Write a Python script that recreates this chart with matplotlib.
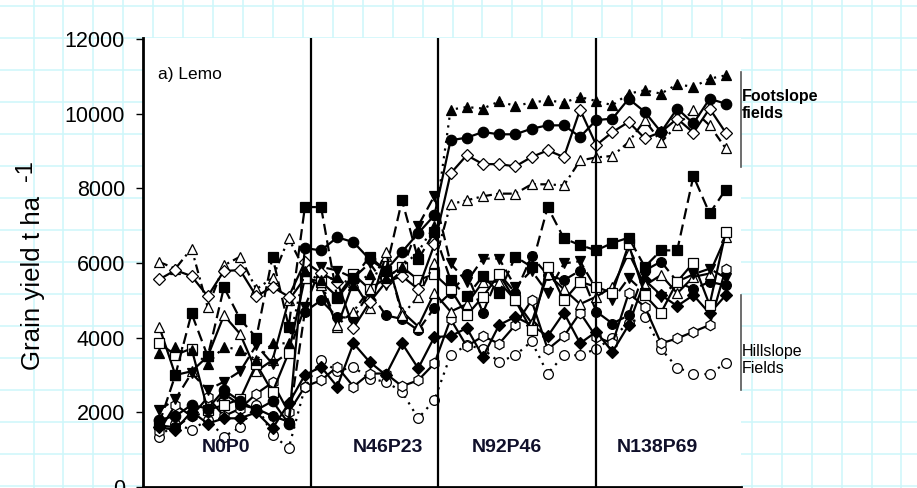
import numpy as np
import matplotlib
matplotlib.use('Agg')
import matplotlib.pyplot as plt

plt.rcParams['font.family'] = ['Liberation Sans', 'DejaVu Sans']

# sampling order 1..36, 9 per treatment
x = np.arange(1, 37)
treatments = ['N0P0', 'N46P23', 'N92P46', 'N138P69']
treat_label_x = [5.1, 15.1, 22.5, 31.8]
separators = [10.38, 18.22, 27.98]

# footslope fields
foot_tri = [3580, 3760, 3670, 3300, 3760, 3670, 3400, 3850, 3850, 5800,
            5540, 5620, 5400, 5700, 5600, 5900, 6300, 7000,
            10110, 10180, 10140, 10330, 10210, 10300, 10360, 10300, 10450,
            10340, 10230, 10540, 10630, 10540, 10790, 10720, 10940, 11030]
foot_circ = [1800, 1900, 2200, 2100, 2600, 2300, 2060, 2300, 1700, 6400,
             6340, 6690, 6560, 6100, 5800, 6300, 6800, 7280,
             9290, 9360, 9510, 9450, 9450, 9600, 9690, 9690, 9380,
             9830, 9870, 10400, 10050, 9510, 10140, 9740, 10400, 10270]
foot_diam = [5560, 5810, 5650, 5110, 5790, 5810, 5110, 5360, 5100, 6030,
             5730, 5500, 4260, 4950, 5490, 5650, 5300, 6500,
             8400, 8890, 8650, 8650, 8590, 8840, 9020, 8840, 10110,
             9160, 9510, 9780, 9340, 9510, 9870, 9490, 10140, 9490]
foot_otri = [6030, 5850, 6390, 4810, 5940, 6170, 5300, 5600, 6660, 5800,
             5500, 4340, 4700, 5300, 6300, 4600, 5100, 6000,
             7580, 7680, 7790, 7860, 7860, 8110, 8110, 8080, 8750,
             8830, 8870, 9240, 9830, 9240, 9690, 10090, 9690, 9070]

# hillslope fields
hill_sq = [1700, 3000, 4650, 3500, 5350, 4500, 4000, 6170, 4300, 7500,
           7500, 5060, 5600, 6170, 5800, 7680, 6100, 6830,
           5540, 5110, 5650, 5200, 6170, 5900, 7500, 6660, 6480,
           6340, 6540, 6680, 5900, 6340, 6340, 8330, 7330, 7970]
hill_osq = [3850, 3540, 3710, 2060, 2200, 2350, 3300, 2540, 3600, 5600,
            5500, 5100, 5700, 5300, 5600, 5900, 5550, 5700,
            5300, 4600, 5100, 5700, 5000, 4200, 5900, 5000, 5500,
            5360, 5200, 6500, 5140, 4670, 5500, 6010, 4880, 6840]
hill_itri = [2060, 2350, 3050, 2600, 2820, 3100, 3800, 3300, 3600, 4830,
             5900, 5800, 5600, 6000, 5400, 5800, 7000, 7800,
             5990, 5500, 6120, 6120, 5360, 5800, 5200, 5990, 6050,
             5300, 5010, 5600, 5200, 5100, 5500, 5700, 5850, 5600]
hill_diam = [1600, 1530, 2020, 1700, 1840, 1840, 2000, 1570, 2240, 3000,
             3220, 2690, 3850, 3350, 3000, 3850, 3180, 4020,
             4040, 4260, 3490, 4340, 4560, 4340, 4040, 4670, 3850,
             4160, 3620, 4340, 5540, 5140, 4850, 5140, 4650, 5140]
hill_ocirc = [1350, 1700, 1530, 1800, 1350, 1600, 2200, 1400, 1040, 2670,
              3400, 3100, 3220, 2900, 2820, 2550, 1840, 2330,
              3530, 3800, 3700, 3350, 3530, 3900, 3040, 3530, 3530,
              3700, 4000, 4400, 4560, 3700, 3200, 3040, 3020, 3330]
hill_hex = [1500, 2200, 1900, 2400, 1900, 2100, 2500, 2800, 2000, 2690,
            2860, 3220, 2690, 3040, 3040, 2700, 2860, 3310,
            4500, 3770, 4040, 3840, 4340, 5000, 3690, 4040, 4670,
            4020, 3850, 5190, 4830, 3850, 3980, 4160, 4340, 5850]
hill_otri = [4300, 3000, 3100, 3500, 4600, 4100, 3100, 3400, 5000, 5600,
             5400, 4300, 5500, 4800, 6200, 4700, 4300, 5200,
             4700, 4900, 5500, 5500, 5000, 4400, 5700, 5300, 4900,
             5100, 5360, 6270, 5400, 5680, 5190, 5630, 5720, 6700]
hill_circ = [1650, 1600, 1900, 2000, 2500, 2200, 2100, 1900, 1750, 4700,
             5000, 4560, 4520, 5230, 4600, 4500, 4200, 4800,
             5200, 5720, 4670, 5720, 5200, 6180, 5680, 5540, 5800,
             4700, 4380, 4600, 5800, 6040, 5500, 5300, 5500, 5400]

dotted = (0, (1, 2.5))
longdash = (0, (5, 2.5))
dashdot = (0, (4, 2, 1, 2))

series = [
    (hill_ocirc, 'o', 'white', dotted, 7),
    (hill_hex, 'h', 'white', '-', 7.5),
    (hill_diam, 'D', 'black', '-', 6),
    (hill_circ, 'o', 'black', longdash, 7),
    (hill_otri, '^', 'white', '-', 7.5),
    (hill_itri, 'v', 'black', longdash, 7.5),
    (hill_osq, 's', 'white', '-', 6.5),
    (hill_sq, 's', 'black', longdash, 6.5),
    (foot_otri, '^', 'white', dashdot, 7.5),
    (foot_diam, 'D', 'white', '-', 6.5),
    (foot_circ, 'o', 'black', '-', 7.5),
    (foot_tri, '^', 'black', dotted, 7.5),
]

W, H = 917, 488
fig = plt.figure(figsize=(W / 100, H / 100), dpi=100)
fig.patch.set_facecolor('white')

# spreadsheet cell grid behind the chart
bg = fig.add_axes([0, 0, 1, 1], zorder=-1)
bg.set_xlim(0, W)
bg.set_ylim(H, 0)
bg.axis('off')
for gx in np.arange(33, W, 29.93):
    bg.axvline(int(gx) + 0.5, color='#cdf7fa', lw=1.1)
for gy in np.arange(5, H, 32):
    bg.axhline(int(gy) + 0.5, color='#cdf7fa', lw=1.1)

ax = fig.add_axes([143 / W, 1 / H, (741 - 143) / W, (487 - 38) / H])
ax.set_facecolor('white')
for vals, mk, fc, ls, ms in series:
    ax.plot(x, vals, color='black', lw=1.6, linestyle=ls, marker=mk,
            markersize=ms, markerfacecolor=fc, markeredgecolor='black',
            markeredgewidth=0.9)

for s in separators:
    ax.axvline(s, color='black', lw=1.6)

ax.set_xlim(0, 36.94)
ax.set_ylim(0, 12030)
ax.set_yticks(np.arange(0, 12001, 2000))
ax.tick_params(axis='y', direction='out', length=5, width=1, pad=8, labelsize=15.5)
ax.set_xticks([])
ax.spines['top'].set_visible(False)
ax.spines['right'].set_visible(False)
ax.spines['left'].set_linewidth(2)
ax.spines['bottom'].set_linewidth(2)

for lab, tx in zip(treatments, treat_label_x):
    ax.text(tx, 1070, lab, ha='center', va='center', fontsize=14,
            fontweight='bold', color='#10102a')

ax.text(0.9, 11050, 'a) Lemo', ha='left', va='center', fontsize=12.5)

# y label with raised "-1"
fig.text(40 / W, 1 - 370 / H, 'Grain yield t ha', rotation=90,
         rotation_mode='anchor', ha='left', va='baseline', fontsize=18.6)
fig.text(32 / W, 1 - 181 / H, '-1', rotation=90,
         rotation_mode='anchor', ha='left', va='baseline', fontsize=17)

# brackets on the right
fig.add_artist(plt.Line2D([741 / W, 741 / W], [1 - 72 / H, 1 - 167 / H],
                          color='#555555', lw=1.2))
fig.add_artist(plt.Line2D([741 / W, 741 / W], [1 - 295 / H, 1 - 390 / H],
                          color='#555555', lw=1.2))
fig.text(742 / W, 1 - 89 / H, 'Footslope\nfields', ha='left', va='top',
         fontsize=11.5, fontweight='bold', linespacing=1.15)
fig.text(742 / W, 1 - 344 / H, 'Hillslope\nFields', ha='left', va='top',
         fontsize=11.5, linespacing=1.15)

fig.savefig('out.png', dpi=100)
